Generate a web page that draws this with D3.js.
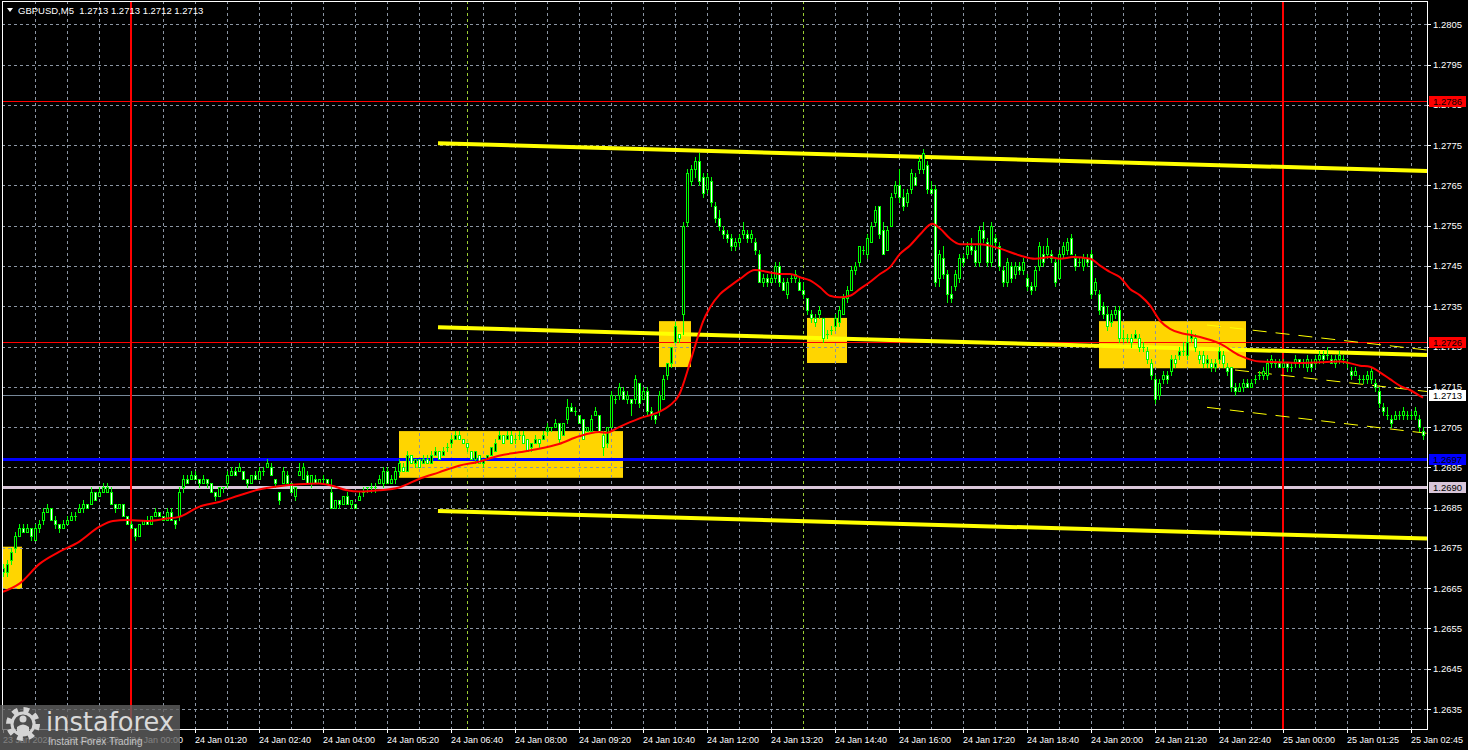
<!DOCTYPE html>
<html><head><meta charset="utf-8">
<script src="https://cdn.jsdelivr.net/npm/d3@7"></script>
<style>html,body{margin:0;padding:0;background:#000;overflow:hidden}</style>
</head><body><svg id="c" width="1468" height="750"></svg>
<script>
// ---------------- DATA ----------------
const headerSymbol = "GBPUSD,M5";
const headerQuote = ["1.2713", "1.2713", "1.2712", "1.2713"];
const basePrice = 1.2600; // bar values below are pips above this base
// [open, high, low, close] in pips, one per 5-minute bar
const bars = [
[69,71,68,70],[69,72,68,71],[72,75,71,74],[75,79,74,78],[78,81,78,80],[80,81,79,79],[79,81,79,80],[80,80,77,78],[77,81,77,80],[80,82,79,81],
[82,85,81,84],[84,86,84,85],[85,85,82,82],[82,83,80,81],[81,81,79,80],[80,82,80,81],[81,83,81,82],[82,84,82,83],[83,84,82,83],[84,86,84,85],
[85,87,84,86],[86,86,85,85],[86,90,86,89],[89,89,87,87],[88,90,88,89],[89,91,89,90],[89,91,89,90],[89,90,86,86],[86,86,84,85],[85,86,85,86],
[86,86,83,83],[83,83,81,81],[81,82,80,80],[80,80,77,78],[78,81,78,81],[81,82,81,82],[82,83,81,81],[81,83,81,83],[83,85,83,84],[84,84,83,83],
[83,83,82,82],[82,85,82,84],[84,85,82,82],[82,82,80,81],[83,90,82,89],[90,93,89,92],[92,93,91,91],[92,94,92,93],[93,94,92,92],[92,92,90,91],
[91,93,91,92],[92,92,90,91],[91,91,89,89],[89,89,87,88],[88,90,88,90],[90,90,89,90],[91,94,90,93],[93,95,93,94],[94,95,93,93],[94,96,94,95],
[94,94,92,92],[92,92,90,91],[91,93,91,93],[93,94,92,92],[92,95,92,94],[94,95,93,94],[95,97,95,96],[95,96,93,93],[92,92,90,91],[89,89,86,87],
[91,95,91,94],[93,94,91,91],[91,91,89,89],[88,90,87,90],[93,96,93,94],[92,96,92,95],[93,94,91,91],[91,93,90,93],[92,93,91,91],[91,92,91,92],
[92,93,91,92],[92,92,91,91],[89,92,85,85],[85,87,85,87],[87,87,85,86],[86,88,86,88],[88,89,86,86],[86,87,85,87],[86,86,85,85],[87,89,87,88],
[89,90,88,89],[90,90,89,90],[90,91,89,90],[90,91,89,90],[91,93,91,92],[91,95,90,94],[94,95,91,91],[91,93,91,92],[92,95,91,94],[94,97,93,96],
[95,96,94,94],[94,99,94,98],[98,98,96,96],[96,97,95,97],[97,97,95,95],[96,98,96,97],[97,98,96,96],[96,99,96,98],[98,100,98,99],[99,99,97,97],
[98,100,98,99],[100,101,99,100],[101,103,100,102],[102,104,102,103],[103,104,102,102],[102,102,101,101],[101,101,99,100],[99,99,97,97],[97,99,96,99],[98,98,96,96],
[96,97,95,97],[97,98,97,98],[98,100,98,100],[99,102,99,101],[102,104,102,103],[103,103,101,101],[102,104,102,103],[103,104,101,101],[102,103,101,102],[103,104,102,103],
[103,104,101,101],[102,102,99,99],[100,101,99,101],[101,103,101,102],[102,102,100,101],[102,104,102,103],[104,106,103,105],[105,105,104,105],[105,107,105,106],[106,106,101,102],
[103,106,103,106],[107,112,106,110],[110,111,109,109],[109,110,108,109],[108,108,106,106],[107,107,102,102],[104,105,104,105],[104,108,104,107],[108,110,108,109],[108,108,104,104],
[103,104,98,100],[101,105,100,105],[105,114,105,113],[112,113,111,112],[113,116,112,115],[114,115,112,112],[112,114,111,113],[112,112,108,111],[112,118,111,117],[116,116,110,111],
[112,115,112,114],[114,115,108,109],[109,110,107,108],[108,108,106,107],[109,114,108,113],[112,118,112,117],[118,121,117,121],[121,125,120,125],[126,131,126,130],[128,128,126,127],
[133,156,128,155],[156,169,155,168],[166,170,165,169],[169,172,167,171],[171,173,165,166],[167,168,162,163],[164,168,163,167],[166,167,160,161],[160,161,156,157],[157,159,154,155],
[154,155,152,153],[153,154,151,152],[152,153,149,150],[150,152,149,151],[151,153,150,152],[153,156,152,154],[153,154,151,152],[152,154,151,153],[151,152,148,149],[148,149,141,141],
[141,143,140,142],[142,143,140,141],[141,143,141,142],[142,146,141,145],[145,146,140,141],[141,142,139,139],[138,142,137,141],[142,143,141,142],[142,144,141,143],[141,142,139,139],
[139,141,137,138],[137,137,133,134],[133,134,131,132],[132,133,130,131],[133,135,132,134],[132,132,126,127],[128,129,127,128],[129,130,128,129],[130,133,129,132],[131,135,130,134],
[133,138,133,137],[137,140,136,139],[139,145,139,144],[144,146,143,145],[146,150,145,150],[149,150,148,149],[148,153,147,152],[151,156,151,155],[156,160,155,159],[160,160,152,153],
[154,156,148,148],[149,155,149,154],[155,163,155,162],[163,166,162,165],[165,169,161,162],[162,164,159,160],[161,164,160,163],[164,169,163,168],[167,168,165,165],[169,172,168,171],
[169,174,168,173],[170,171,163,164],[164,166,163,163],[164,165,140,141],[142,149,140,148],[147,150,142,143],[143,144,136,138],[138,140,136,137],[140,144,139,143],[142,148,141,147],
[147,148,145,146],[148,151,147,150],[150,152,148,149],[149,150,145,146],[146,155,145,154],[154,156,151,152],[151,152,145,146],[146,156,145,155],[152,153,150,151],[150,151,144,145],
[144,145,140,141],[141,147,140,146],[145,146,141,142],[143,146,142,145],[145,146,143,144],[144,147,143,146],[142,143,139,140],[140,141,138,139],[140,145,139,144],[145,151,144,150],
[148,150,145,146],[148,152,147,150],[148,149,146,147],[146,147,140,141],[142,149,142,148],[148,151,147,150],[149,152,148,151],[152,153,148,148],[147,148,144,145],[146,147,145,146],
[145,148,144,147],[147,148,145,146],[148,149,137,138],[139,142,138,141],[138,139,133,134],[135,136,132,133],[133,135,129,130],[131,134,130,133],[133,135,132,134],[134,135,126,127],
[127,129,126,127],[127,128,126,127],[127,128,125,126],[127,129,127,128],[127,128,124,125],[125,126,124,125],[124,125,121,122],[121,122,117,118],[117,118,111,112],[113,117,112,116],
[117,119,116,118],[118,119,116,117],[119,123,118,122],[122,123,120,121],[123,125,122,124],[124,126,123,124],[123,129,122,126],[127,129,126,128],[127,128,124,125],[123,124,121,122],
[123,124,120,121],[121,123,120,122],[121,122,119,120],[120,122,119,121],[122,125,121,124],[123,124,120,121],[120,121,118,119],[120,120,114,115],[115,116,113,114],[114,116,114,115],
[115,117,114,116],[116,117,115,115],[115,117,115,116],[117,118,116,117],[118,119,117,118],[118,120,117,119],[118,122,117,121],[121,123,120,122],[121,122,120,121],[121,122,120,120],
[120,122,120,121],[121,121,119,120],[120,121,119,120],[121,123,120,122],[122,122,120,121],[121,122,120,121],[120,123,119,122],[121,122,119,120],[121,123,120,122],[122,124,121,123],
[123,124,121,122],[123,125,122,123],[122,123,121,121],[121,123,120,122],[122,124,121,123],[122,123,121,122],[121,122,120,121],[119,120,117,118],[118,120,118,119],[117,118,116,117],
[117,118,116,117],[117,119,116,118],[117,120,116,119],[116,117,114,115],[114,115,110,111],[110,111,108,109],[108,110,107,108],[107,108,105,106],[107,109,107,108],[108,109,107,108],
[108,110,107,109],[108,109,107,108],[108,109,107,108],[108,110,107,109],[107,108,104,105],[104,105,102,103]
];
// moving average: [bar index, pips]
const maPoints = [
[0,64.1],[4.2,66.2],[9.2,71.1],[14,74],[19,76.5],[24,80.2],[27.5,81.7],[31,81.9],[36,81.7],[41,82.3],[44,82.7],[49,85.2],[54,86.4],[59,88],[64,89.5],
[69,90.3],[74,90.8],[79,91],[82,90.5],[86,89.3],[89,89],[94,89.3],[99,90],[104,92.1],[109,93.75],[114,95.4],[119,96.4],[124,97.9],[129,98.75],[134,99.6],
[139,100.8],[144,102.7],[149,103.75],[151,103.6],[154,105],[159,107.1],[164,108.75],[166.75,110.4],[169,112.9],[171.75,121],[173.4,126.4],[175,131.2],[176.75,134.7],[179.25,138],[181.75,140],
[184.25,141.8],[188,144],[191.75,143.4],[194.25,143],[196.75,143],[199.25,142.2],[201.75,141.4],[204.25,139.7],[206.75,137.6],[209.25,137.2],[211.75,137.6],[214.25,139.3],[216.75,141],[219.25,143],[221.75,144.7],
[224.25,148],[226.75,150.1],[229.25,152.8],[232.3,155.5],[234.25,154.3],[236.75,151.8],[239.25,150.4],[244.25,150.4],[249.25,149.3],[254.25,147.6],[258,146.8],[261.75,147.2],[264.25,146.8],[267.6,147.2],[271.75,146.8],
[274.25,145.1],[276.75,143.5],[279.25,142.2],[281.75,139.3],[284.25,137.7],[286.75,135.2],[289.25,131.4],[291.75,129.4],[294.25,128.4],[296.75,127.9],[299.25,127.35],[304.25,125.7],[309.25,122.75],[314.25,121.25],[319.25,121.1],
[324.25,120.9],[329.25,121.1],[334.25,121.3],[339.25,120.25],[341.75,120],[344.25,118.6],[346.75,116.9],[349.25,115.25],[351.75,114.2],[354.25,112.75],[355,112.3]
];
const priceTicks = [1.2805,1.2795,1.2785,1.2775,1.2765,1.2755,1.2745,1.2735,1.2725,1.2715,1.2705,1.2695,1.2685,1.2675,1.2665,1.2655,1.2645,1.2635];
const timeTicks = [[0,"23 Jan 2024"],[16,"23 Jan 22:40"],[32,"24 Jan 00:00"],[48,"24 Jan 01:20"],[64,"24 Jan 02:40"],[80,"24 Jan 04:00"],[96,"24 Jan 05:20"],
[112,"24 Jan 06:40"],[128,"24 Jan 08:00"],[144,"24 Jan 09:20"],[160,"24 Jan 10:40"],[176,"24 Jan 12:00"],[192,"24 Jan 13:20"],[208,"24 Jan 14:40"],
[224,"24 Jan 16:00"],[240,"24 Jan 17:20"],[256,"24 Jan 18:40"],[272,"24 Jan 20:00"],[288,"24 Jan 21:20"],[304,"24 Jan 22:40"],[320,"25 Jan 00:00"],
[336,"25 Jan 01:25"],[352,"25 Jan 02:45"]];
const dayBreakBars = [32, 320];
const sessionBars = [116, 200];
// horizontal levels: resistance, support, current price, blue level, lavender level
const levelPrices = [1.2786, 1.2726, 1.2713, 1.2697, 1.2690];
// trend channel: [startBar, startPips, endBar, endPips]
const channelLines = [[108.75,175.45,356,168.58],[108.75,129.77,356,122.89],[108.75,84.16,356,77.33]];
const smallChannel = [[301,130.34,356,124.13],[308,119.17,356,113.83],[301,109.9,356,103.45]];
// signal zones: [startBar, endBar, topPips, bottomPips]
const zones = [[0,4.75,75.3,64.8],[99,155,104.0,92.4],[164,172,131.3,119.9],[201,211,132.1,120.9],[274,310.75,131.3,119.6]];

// ---------------- DRAW ----------------
const W = 1468, H = 750;
const plot = {l: 2, t: 1, r: 1427, b: 729};
const x = d3.scaleLinear().domain([0, 355]).range([3, 1423]);
const y = d3.scaleLinear().domain([1.2635, 1.2805]).range([709, 24.3]);
const pp = p => basePrice + p / 10000;
const FONT = "'Liberation Sans', Arial, sans-serif";

const svg = d3.select("#c");
svg.append("rect").attr("width", W).attr("height", H).attr("fill", "#000");
svg.append("defs").append("clipPath").attr("id", "pc").append("rect")
  .attr("x", plot.l).attr("y", plot.t).attr("width", plot.r - plot.l).attr("height", plot.b - plot.t);
const g = svg.append("g").attr("clip-path", "url(#pc)");

// zones
g.selectAll("rect.zone").data(zones).join("rect").attr("class", "zone")
  .attr("x", d => x(d[0])).attr("y", d => y(pp(d[2])))
  .attr("width", d => x(d[1]) - x(d[0])).attr("height", d => y(pp(d[3])) - y(pp(d[2])))
  .attr("fill", "#ffd500");

// grid
const gridCol = "#8b95a3";
g.selectAll("line.hg").data(priceTicks).join("line").attr("class", "hg")
  .attr("x1", plot.l).attr("x2", plot.r)
  .attr("y1", d => Math.round(y(d)) + 0.5).attr("y2", d => Math.round(y(d)) + 0.5)
  .attr("stroke", gridCol).attr("stroke-width", 1).attr("stroke-dasharray", "3,3");
const vBars = d3.range(8, 356, 8).filter(b => !dayBreakBars.includes(b));
g.selectAll("line.vg").data(vBars).join("line").attr("class", "vg")
  .attr("x1", d => Math.round(x(d)) + 0.5).attr("x2", d => Math.round(x(d)) + 0.5)
  .attr("y1", plot.t).attr("y2", plot.b)
  .attr("stroke", gridCol).attr("stroke-width", 1).attr("stroke-dasharray", "3,3");
g.selectAll("line.sess").data(sessionBars).join("line").attr("class", "sess")
  .attr("x1", d => Math.round(x(d)) + 0.5).attr("x2", d => Math.round(x(d)) + 0.5)
  .attr("y1", plot.t).attr("y2", plot.b)
  .attr("stroke", "#9acd32").attr("stroke-width", 1).attr("stroke-dasharray", "3,3");

// levels
const levelStyle = [
  {c: "#ff0000", w: 1, box: "#ff0000", txt: "#000"},
  {c: "#ff0000", w: 1, box: "#ff0000", txt: "#000"},
  {c: "#778899", w: 1, box: "#ffffff", txt: "#000"},
  {c: "#0000ff", w: 3, box: "#0000ff", txt: "#000"},
  {c: "#d9c6d9", w: 3, box: "#d9c6d9", txt: "#000"}
];
g.selectAll("line.lvl").data(levelPrices).join("line").attr("class", "lvl")
  .attr("x1", plot.l).attr("x2", plot.r)
  .attr("y1", (d, i) => Math.round(y(d)) + (levelStyle[i].w % 2 ? 0.5 : 0))
  .attr("y2", (d, i) => Math.round(y(d)) + (levelStyle[i].w % 2 ? 0.5 : 0))
  .attr("stroke", (d, i) => levelStyle[i].c).attr("stroke-width", (d, i) => levelStyle[i].w);

// day break lines
g.selectAll("line.day").data(dayBreakBars).join("line").attr("class", "day")
  .attr("x1", d => Math.round(x(d))).attr("x2", d => Math.round(x(d)))
  .attr("y1", plot.t).attr("y2", plot.b).attr("stroke", "#ff0000").attr("stroke-width", 2);

// channel lines
g.selectAll("line.ch").data(channelLines).join("line").attr("class", "ch")
  .attr("x1", d => x(d[0])).attr("y1", d => y(pp(d[1])))
  .attr("x2", d => x(d[2])).attr("y2", d => y(pp(d[3])))
  .attr("stroke", "#ffff00").attr("stroke-width", 4);
g.selectAll("line.sch").data(smallChannel).join("line").attr("class", "sch")
  .attr("x1", d => x(d[0])).attr("y1", d => y(pp(d[1])))
  .attr("x2", d => x(d[2])).attr("y2", d => y(pp(d[3])))
  .attr("stroke", "#ffff00").attr("stroke-width", 1).attr("stroke-dasharray", "14,9");

// candles
const cg = g.append("g").attr("shape-rendering", "crispEdges");
const candle = cg.selectAll("g.cd").data(bars).join("g").attr("class", "cd");
candle.append("line")
  .attr("x1", (d, i) => Math.round(x(i)) + 0.5).attr("x2", (d, i) => Math.round(x(i)) + 0.5)
  .attr("y1", d => y(pp(d[1]))).attr("y2", d => y(pp(d[2])) + 1)
  .attr("stroke", "#00ff00").attr("stroke-width", 1);
candle.append("rect")
  .attr("x", (d, i) => Math.round(x(i)) - 0.5)
  .attr("y", d => Math.round(y(pp(Math.max(d[0], d[3])))) + 0.5)
  .attr("width", 2)
  .attr("height", d => Math.max(0.01, Math.round(y(pp(Math.min(d[0], d[3])))) - Math.round(y(pp(Math.max(d[0], d[3]))))))
  .attr("fill", d => d[3] >= d[0] ? "#000" : "#ffffff")
  .attr("stroke", "#00ff00").attr("stroke-width", 1);

// moving average
g.append("path").datum(maPoints)
  .attr("d", d3.line().x(d => x(d[0])).y(d => y(pp(d[1]))).curve(d3.curveMonotoneX))
  .attr("fill", "none").attr("stroke", "#ff0000").attr("stroke-width", 2);

// frame
svg.append("rect").attr("x", plot.l + 0.5).attr("y", plot.t + 0.5)
  .attr("width", plot.r - plot.l).attr("height", plot.b - plot.t)
  .attr("fill", "none").attr("stroke", "#ffffff").attr("stroke-width", 1);

// right axis
const ax = svg.append("g").attr("font-family", FONT).attr("font-size", 9.5).attr("fill", "#fff");
ax.selectAll("line.yt").data(priceTicks).join("line").attr("class", "yt")
  .attr("x1", plot.r).attr("x2", plot.r + 4)
  .attr("y1", d => Math.round(y(d)) + 0.5).attr("y2", d => Math.round(y(d)) + 0.5)
  .attr("stroke", "#fff");
ax.selectAll("text.yl").data(priceTicks).join("text").attr("class", "yl")
  .attr("x", 1433).attr("y", d => y(d) + 3.5).text(d => d.toFixed(4));

// level boxes
const lb = svg.append("g").attr("font-family", FONT).attr("font-size", 9.5);
lb.selectAll("rect").data(levelPrices).join("rect")
  .attr("x", 1429).attr("y", d => Math.round(y(d)) - 5).attr("width", 37).attr("height", 11)
  .attr("fill", (d, i) => levelStyle[i].box);
lb.selectAll("text").data(levelPrices).join("text")
  .attr("x", 1433).attr("y", d => Math.round(y(d)) + 4)
  .attr("fill", (d, i) => levelStyle[i].txt).text(d => d.toFixed(4));

// bottom axis
const bx = svg.append("g").attr("font-family", FONT).attr("font-size", 9).attr("fill", "#fff");
bx.selectAll("line").data(timeTicks).join("line")
  .attr("x1", d => Math.round(x(d[0])) + 0.5).attr("x2", d => Math.round(x(d[0])) + 0.5)
  .attr("y1", plot.b).attr("y2", plot.b + 4).attr("stroke", "#fff");
bx.selectAll("text").data(timeTicks).join("text")
  .attr("x", d => x(d[0])).attr("y", 743).text(d => d[1]);

// header
svg.append("path").attr("d", "M7,8 L13,8 L10,12 Z").attr("fill", "#fff");
svg.append("text").attr("x", 18).attr("y", 14).attr("font-family", FONT).attr("font-size", 9.5)
  .attr("fill", "#fff").attr("xml:space", "preserve")
  .text(headerSymbol + "  " + headerQuote.join(" "));

// logo
const lg = svg.append("g");
lg.append("rect").attr("x", 0).attr("y", 705).attr("width", 180).attr("height", 45)
  .attr("fill", "#606060").attr("fill-opacity", 0.8);
lg.append("circle").attr("cx", 23).attr("cy", 724).attr("r", 14)
  .attr("fill", "none").attr("stroke", "#d4d4d4").attr("stroke-width", 6).attr("stroke-dasharray", "5.5,5.5");
lg.append("circle").attr("cx", 23).attr("cy", 724).attr("r", 11)
  .attr("fill", "none").attr("stroke", "#d4d4d4").attr("stroke-width", 3);
lg.append("circle").attr("cx", 23).attr("cy", 719).attr("r", 3.5).attr("fill", "#d4d4d4");
lg.append("path").attr("d", "M17,735 L17,727 Q23,722 29,727 L29,735 Z").attr("fill", "#d4d4d4");
lg.append("text").attr("x", 46).attr("y", 731).attr("font-family", "'DejaVu Sans', sans-serif")
  .attr("font-size", 27).attr("fill", "#dadada").attr("textLength", 128).attr("lengthAdjust", "spacingAndGlyphs")
  .text("instaforex");
lg.append("text").attr("x", 48).attr("y", 745).attr("font-family", FONT)
  .attr("font-size", 10).attr("fill", "#c4c4c4").text("Instant Forex Trading");
</script>
</body></html>
